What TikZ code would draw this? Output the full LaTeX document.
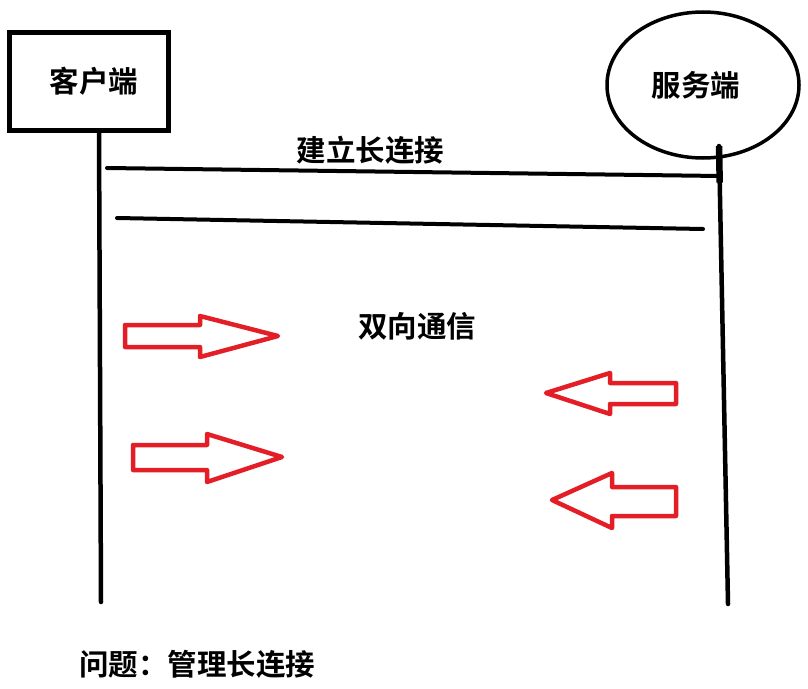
\documentclass[tikz,border=0pt]{standalone}
\usepackage{fontspec}
\newfontfamily\cjk{Noto Sans CJK SC}[BoldFont={Noto Sans CJK SC Bold}]
\usepackage{xcolor}
\definecolor{arrowred}{RGB}{228,30,38}
\usetikzlibrary{shapes.geometric, positioning, calc}
\tikzset{
  cjktext/.style={font=\cjk\bfseries\fontsize{29.5}{34}\selectfont, inner sep=2pt},
  clientbox/.style={
    rectangle, draw=black, line width=5pt,
    minimum width=159pt, minimum height=98pt, cjktext
  },
  serverbox/.style={
    ellipse, draw=black, line width=3.5pt,
    minimum width=192pt, minimum height=146pt, cjktext
  },
  lifeline/.style={line width=4.5pt, line cap=round},
  msgline/.style={line width=4pt, line cap=round},
  hollowarrow/.style={draw=arrowred, line width=4.5pt, line join=round},
}

\begin{document}
\begin{tikzpicture}[x=1pt, y=-1pt]
  \useasboundingbox (0,0) rectangle (808,688);

  % --- Cabecera: cliente y servidor ---
  \node (client) [clientbox] at (89,81.5)  {\hspace*{10pt}客户端};
  \node (server) [serverbox] at (703,85)   {服务端\hspace*{14pt}};

  % --- Líneas de vida ---
  \coordinate (cend) at (101,602);
  \coordinate (stop) at (719,146);
  \coordinate (send) at (728,604);
  \draw[lifeline] ($(client.south)+(10,0)$) -- (cend);
  \draw[lifeline] (stop) -- (send);
  \draw[line width=6.5pt] (stop) -- ($(stop)!0.08!(send)$);

  % --- Conexión larga ---
  \coordinate (c1) at (107,168);
  \coordinate (s1) at (720,176);
  \coordinate (c2) at (117,218);
  \coordinate (s2) at (703,229);
  \draw[msgline] (c1) -- node[cjktext, above=3pt, pos=0.43] (build) {建立长连接} (s1);
  \draw[msgline] (c2) -- (s2);

  \node (duplex) [cjktext] at (417,326) {双向通信};

  % --- Flechas hacia la derecha (cliente -> servidor) ---
  \draw[hollowarrow] (125,325) -- (200,325) -- (200,316) -- (278,336)
        -- (200,357) -- (200,347) -- (125,347) -- cycle;
  \draw[hollowarrow] (133,445) -- (207,445) -- (207,434) -- (282,457)
        -- (207,482) -- (207,470) -- (133,470) -- cycle;

  % --- Flechas hacia la izquierda (servidor -> cliente) ---
  \draw[hollowarrow] (676,383) -- (610,383) -- (610,373) -- (546,393)
        -- (610,414) -- (610,404) -- (676,404) -- cycle;
  \draw[hollowarrow] (676,487) -- (612,487) -- (612,473) -- (552,500)
        -- (612,528) -- (612,516) -- (676,516) -- cycle;

  % --- Conclusión ---
  \node (issue) [cjktext, anchor=west] at (77,664) {问题：管理长连接};

\end{tikzpicture}
\end{document}
